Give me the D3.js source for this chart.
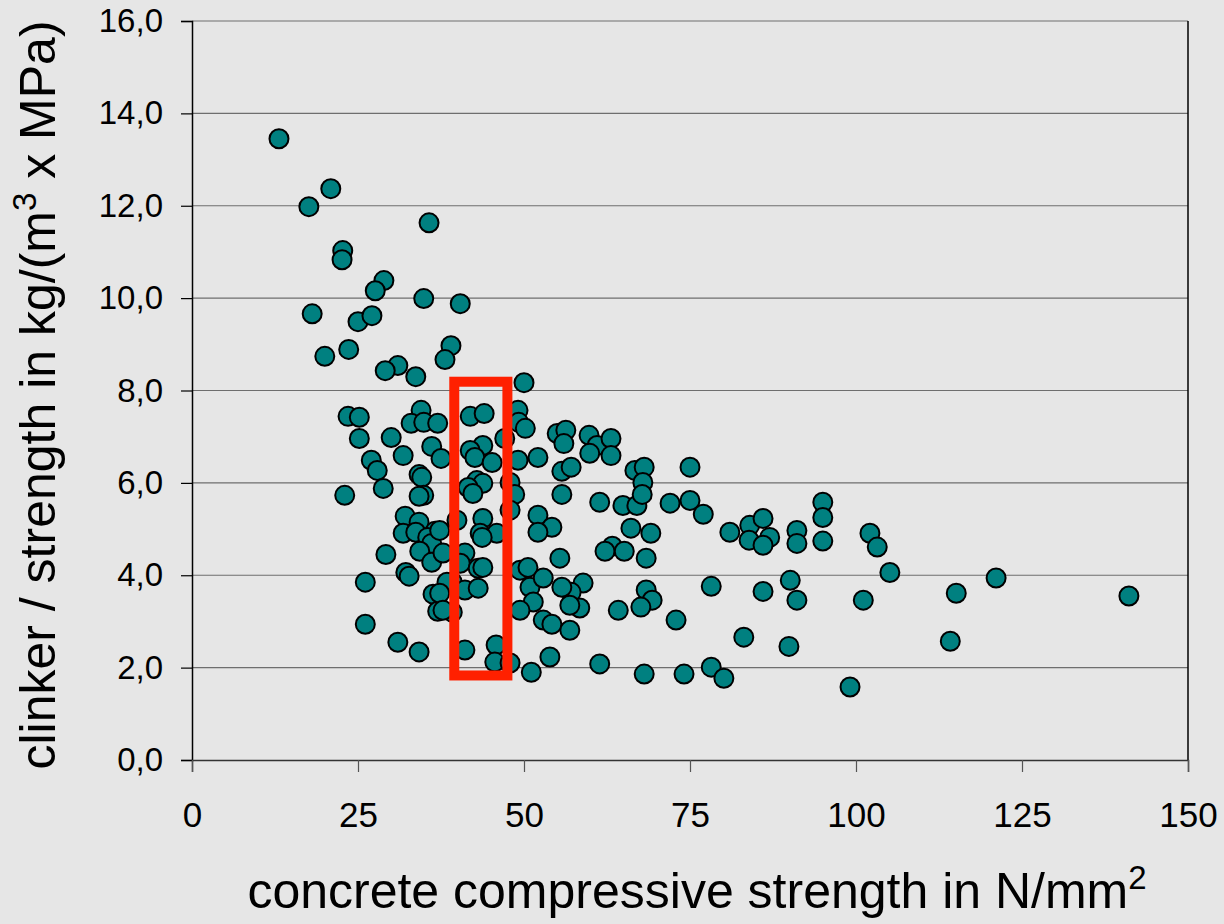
<!DOCTYPE html>
<html>
<head>
<meta charset="utf-8">
<script src="https://cdn.jsdelivr.net/npm/d3@7"></script>
<style>
  body { margin: 0; background: #e6e6e6; }
  svg { display: block; font-family: "Liberation Sans", Arial, sans-serif; }
</style>
</head>
<body>
<svg width="1224" height="924"></svg>
<script>
// concrete compressive strength (N/mm2)
var strength = [13.1,17.6,20.9,22.7,22.6,35.7,18.1,28.9,27.6,25.0,27.1,34.9,40.4,20.0,23.6,39.0,38.1,31.0,29.1,33.7,
  50.0,23.5,25.2,25.2,30.0,31.8,27.0,27.9,23.0,28.8,34.5,33.0,34.9,37.0,36.1,37.5,34.2,34.6,34.9,34.2,
  32.1,34.2,36.6,31.8,33.7,35.5,36.1,34.3,36.1,29.2,32.2,32.7,26.1,26.1,31.0,34.2,36.3,37.0,39.2,39.2,
  41.9,44.0,49.1,49.2,50.2,47.1,43.8,41.9,42.6,45.2,49.1,52.1,42.9,43.8,41.6,42.3,47.9,48.6,39.9,43.8,
  43.4,45.9,47.9,52.1,54.2,52.1,37.3,43.7,37.8,41.1,40.4,43.1,43.8,38.4,41.1,43.1,37.3,37.8,41.1,45.8,
  45.6,47.9,49.4,50.6,50.9,52.9,51.4,49.4,55.4,58.9,57.1,55.7,58.4,56.9,52.9,54.2,56.9,53.9,51.1,55.7,
  55.7,57.1,55.0,56.3,56.0,59.8,61.0,63.1,59.9,63.1,61.4,64.9,67.0,72.0,75.0,77.0,75.0,66.7,68.1,67.9,
  67.8,66.1,69.1,63.3,62.2,65.1,68.4,68.4,69.3,67.6,64.2,72.9,61.4,68.1,74.1,78.2,80.1,78.2,83.1,86.0,
  81.0,84.0,86.0,87.0,83.9,86.0,91.1,91.1,90.1,91.1,89.9,95.0,95.0,95.0,102.1,103.2,105.1,101.1,99.1,115.1,
  121.1,114.2,141.1];
// clinker / strength in kg/(m3 x MPa)
var clinker = [13.45,11.98,12.37,11.03,10.83,11.63,9.66,10.38,10.16,9.49,9.62,9.99,9.88,8.74,8.89,8.97,8.67,8.54,8.43,8.30,
  8.17,7.44,7.42,6.96,6.98,6.59,6.49,6.27,5.73,5.88,7.57,7.29,7.31,7.29,6.79,6.53,6.18,6.12,5.73,5.71,
  5.28,5.15,4.95,4.91,4.93,4.82,4.69,4.52,4.28,4.45,4.06,3.98,3.85,2.94,2.55,2.34,3.59,3.22,3.20,3.85,
  7.44,7.50,7.57,7.31,7.18,6.96,6.81,6.70,6.55,6.44,6.49,6.55,6.05,5.99,5.90,5.77,6.01,5.75,5.19,5.23,
  4.91,4.91,5.41,5.30,5.04,4.93,4.97,4.82,4.48,4.48,4.26,4.15,4.17,3.85,3.68,3.72,3.61,3.24,2.38,2.49,
  2.12,2.10,4.11,4.17,3.74,3.94,3.42,3.24,4.37,3.83,3.63,3.74,3.29,3.35,3.03,2.94,2.81,2.23,1.90,5.75,
  6.25,6.34,7.07,7.14,6.85,7.03,6.81,6.96,6.64,6.59,5.58,5.51,5.51,5.56,5.62,5.32,6.34,6.27,6.34,6.01,
  5.75,5.02,4.91,4.63,4.52,4.52,4.37,3.68,3.46,3.31,3.24,3.03,2.08,1.86,1.86,2.01,1.77,3.76,2.66,3.65,
  4.93,5.08,5.23,4.82,4.76,4.65,4.97,4.69,3.89,3.46,2.46,5.58,5.25,4.74,4.91,4.61,4.06,3.46,1.58,3.61,
  3.94,2.57,3.55];

var xTicks = [0, 25, 50, 75, 100, 125, 150];
var yTicks = [0, 2, 4, 6, 8, 10, 12, 14, 16];
// highlighted range (red box)
var boxX = [39.5, 47.5];
var boxY = [1.83, 8.19];

var svg = d3.select("svg");
var margin = {top: 21, right: 36, bottom: 164, left: 192};
var width = 1224 - margin.left - margin.right;
var height = 924 - margin.top - margin.bottom;

var x = d3.scaleLinear().domain([0, 150]).range([0, width]);
var y = d3.scaleLinear().domain([0, 16]).range([height, 0]);

var g = svg.append("g").attr("transform", "translate(" + margin.left + "," + margin.top + ")");

// gridlines
g.selectAll(".grid").data(yTicks.filter(function(d){ return d > 0; }))
  .enter().append("line")
  .attr("x1", 0).attr("x2", width)
  .attr("y1", function(d){ return y(d); }).attr("y2", function(d){ return y(d); })
  .attr("stroke", "#6e6e6e").attr("stroke-width", 1.2);

// right border
g.append("line").attr("x1", width).attr("x2", width).attr("y1", 0).attr("y2", height)
  .attr("stroke", "#000").attr("stroke-width", 1.5);

var fmt = function(d){ return d3.format(".1f")(d).replace(".", ","); };

var yAxis = g.append("g")
  .call(d3.axisLeft(y).tickValues(yTicks).tickFormat(fmt).tickSize(11).tickPadding(18));
var xAxis = g.append("g").attr("transform", "translate(0," + height + ")")
  .call(d3.axisBottom(x).tickValues(xTicks).tickSize(12).tickPadding(30));

yAxis.select(".domain").attr("stroke", "#000").attr("stroke-width", 1.5);
xAxis.select(".domain").attr("stroke", "#333").attr("stroke-width", 1.5);
yAxis.selectAll(".tick line").attr("stroke", "#000").attr("stroke-width", 1.2);
xAxis.selectAll(".tick line").attr("stroke", "#555").attr("stroke-width", 1.2);
yAxis.attr("font-size", 33).attr("font-family", "'Liberation Sans', Arial, sans-serif");
xAxis.attr("font-size", 35).attr("font-family", "'Liberation Sans', Arial, sans-serif");
svg.selectAll(".tick text").attr("fill", "#000");

// points
var pts = d3.zip(strength, clinker);
g.selectAll("circle.pt").data(pts).enter().append("circle")
  .attr("class", "pt")
  .attr("cx", function(d){ return x(d[0]); })
  .attr("cy", function(d){ return y(d[1]); })
  .attr("r", 9.5)
  .attr("fill", "#008080")
  .attr("stroke", "#000")
  .attr("stroke-width", 2);

// highlight box
g.append("rect")
  .attr("x", x(boxX[0])).attr("y", y(boxY[1]))
  .attr("width", x(boxX[1]) - x(boxX[0]))
  .attr("height", y(boxY[0]) - y(boxY[1]))
  .attr("fill", "none").attr("stroke", "#ff2000").attr("stroke-width", 10);

// axis titles
var xt = svg.append("text")
  .attr("x", 697).attr("y", 908)
  .attr("text-anchor", "middle").style("font-size", "50px");
xt.append("tspan").text("concrete compressive strength in N/mm");
xt.append("tspan").attr("dy", -19).style("font-size", "33px").text("2");

var yt = svg.append("text")
  .attr("transform", "translate(55,395) rotate(-90)")
  .attr("text-anchor", "middle").style("font-size", "50px");
yt.append("tspan").text("clinker / strength in kg/(m");
yt.append("tspan").attr("dy", -19).style("font-size", "33px").text("3");
yt.append("tspan").attr("dy", 19).text(" x MPa)");
</script>
</body>
</html>
